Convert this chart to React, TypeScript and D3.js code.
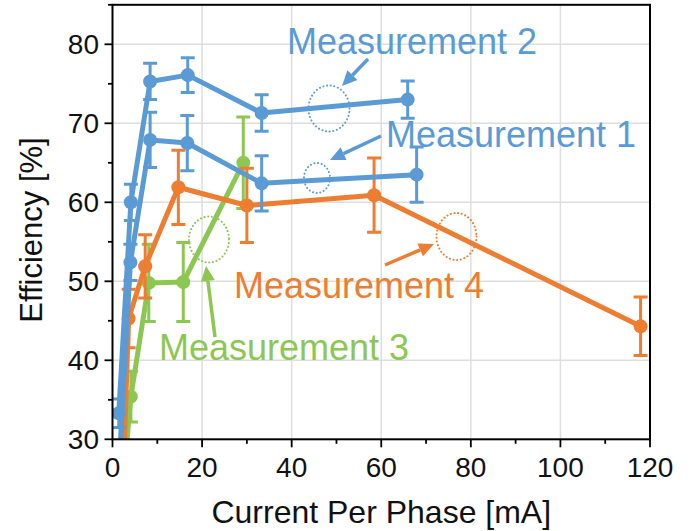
import React from "react";
import * as d3 from "d3";

// ---- data ----
const m1X = [1.5, 4.0, 8.4, 16.7, 33.3, 67.9];
const m1Y = [27.0, 52.4, 67.9, 67.5, 62.4, 63.5];
const m1E = [0, 2.3, 3.5, 3.5, 3.5, 3.5];

const m2X = [1.4, 4.1, 8.4, 16.8, 33.3, 65.9];
const m2Y = [33.3, 60.0, 75.3, 76.1, 71.3, 73.0];
const m2E = [1.8, 2.3, 2.3, 2.2, 2.3, 2.35];

const m3X = [2.8, 4.1, 8.1, 15.8, 29.2];
const m3Y = [27.0, 35.4, 49.8, 49.9, 65.0];
const m3E = [0, 3.2, 4.9, 5.0, 5.8];

const m4X = [2.5, 3.6, 7.3, 14.7, 30.0, 58.4, 117.9];
const m4Y = [27.0, 45.3, 51.9, 61.9, 59.6, 60.9, 44.3];
const m4E = [0, 3.7, 4.0, 4.7, 4.7, 4.7, 3.7];

const xTicks = [0, 20, 40, 60, 80, 100, 120];
const yTicks = [30, 40, 50, 60, 70, 80];
const xMinor = [10, 30, 50, 70, 90, 110];
const yMinor = [35, 45, 55, 65, 75, 85];

const BLUE = "#5b9bd5";
const ORANGE = "#ed7d31";
const GREEN = "#8cc751";

const x = d3.scaleLinear().domain([0, 120]).range([112.5, 650]);
const y = d3.scaleLinear().domain([30, 85]).range([439.3, 4.8]);

type S = { xs: number[]; ys: number[]; es: number[]; color: string };
const series: S[] = [
  { xs: m3X, ys: m3Y, es: m3E, color: GREEN },
  { xs: m4X, ys: m4Y, es: m4E, color: ORANGE },
  { xs: m1X, ys: m1Y, es: m1E, color: BLUE },
  { xs: m2X, ys: m2Y, es: m2E, color: BLUE },
];

const line = d3
  .line<[number, number]>()
  .x((d) => x(d[0]))
  .y((d) => y(d[1]));

function Series({ s }: { s: S }) {
  const pts = s.xs.map((v, i) => [v, s.ys[i]] as [number, number]);
  return (
    <g>
      <path d={line(pts) || ""} fill="none" stroke={s.color} strokeWidth={5} strokeLinejoin="round" />
      {pts.map((p, i) =>
        s.es[i] > 0 ? (
          <g key={"e" + i} stroke={s.color} strokeWidth={3}>
            <line x1={x(p[0])} x2={x(p[0])} y1={y(p[1] - s.es[i])} y2={y(p[1] + s.es[i])} />
            <line x1={x(p[0]) - 7} x2={x(p[0]) + 7} y1={y(p[1] - s.es[i])} y2={y(p[1] - s.es[i])} />
            <line x1={x(p[0]) - 7} x2={x(p[0]) + 7} y1={y(p[1] + s.es[i])} y2={y(p[1] + s.es[i])} />
          </g>
        ) : null
      )}
      {pts.map((p, i) => (
        <circle key={"c" + i} cx={x(p[0])} cy={y(p[1])} r={7} fill={s.color} />
      ))}
    </g>
  );
}

function Arrow({ x1, y1, x2, y2, color }: { x1: number; y1: number; x2: number; y2: number; color: string }) {
  const ang = Math.atan2(y2 - y1, x2 - x1);
  const L = 15, W = 7;
  const bx = x2 - L * Math.cos(ang), by = y2 - L * Math.sin(ang);
  const px = -Math.sin(ang) * W, py = Math.cos(ang) * W;
  return (
    <g>
      <line x1={x1} y1={y1} x2={bx} y2={by} stroke={color} strokeWidth={3.5} />
      <polygon points={`${x2},${y2} ${bx + px},${by + py} ${bx - px},${by - py}`} fill={color} />
    </g>
  );
}

export default function App() {
  const font = "'Liberation Sans', Arial, sans-serif";
  const [x0, x1] = x.range();
  const [y0, y1] = y.range();
  return (
    <svg width={691} height={531} style={{ position: "absolute", left: 0, top: 0, background: "#fff" }} fontFamily={font}>
      <defs>
        <clipPath id="plot">
          <rect x={x0} y={y1} width={x1 - x0} height={y0 - y1} />
        </clipPath>
      </defs>
      <rect width={691} height={531} fill="#fff" />
      {/* grid */}
      <g stroke="#dedede" strokeWidth={1.5}>
        {xTicks.slice(1, -1).map((t) => (
          <line key={t} x1={x(t)} x2={x(t)} y1={y1} y2={y0} />
        ))}
        {yTicks.slice(1).map((t) => (
          <line key={t} x1={x0} x2={x1} y1={y(t)} y2={y(t)} />
        ))}
      </g>
      {/* data */}
      <g clipPath="url(#plot)">
        {series.map((s, i) => (
          <Series key={i} s={s} />
        ))}
      </g>
      {/* frame and ticks */}
      <rect x={x0} y={y1} width={x1 - x0} height={y0 - y1} fill="none" stroke="#000" strokeWidth={2} />
      <g stroke="#000" strokeWidth={1.8}>
        {xTicks.map((t) => (
          <line key={"xt" + t} x1={x(t)} x2={x(t)} y1={y0} y2={y0 + 8} />
        ))}
        {xMinor.map((t) => (
          <line key={"xm" + t} x1={x(t)} x2={x(t)} y1={y0} y2={y0 + 4.5} />
        ))}
        {yTicks.map((t) => (
          <line key={"yt" + t} x1={x0 - 8} x2={x0} y1={y(t)} y2={y(t)} />
        ))}
        {yMinor.map((t) => (
          <line key={"ym" + t} x1={x0 - 4.5} x2={x0} y1={y(t)} y2={y(t)} />
        ))}
      </g>
      <g fontSize={28} fill="#111">
        {xTicks.map((t) => (
          <text key={"xl" + t} x={x(t)} y={477} textAnchor="middle">
            {t}
          </text>
        ))}
        {yTicks.map((t) => (
          <text key={"yl" + t} x={99} y={y(t)} dy="0.35em" textAnchor="end">
            {t}
          </text>
        ))}
      </g>
      <text x={(x0 + x1) / 2} y={523} textAnchor="middle" fontSize={32} fill="#111">
        Current Per Phase [mA]
      </text>
      <text transform={`translate(42,${(y0 + y1) / 2 + 8}) rotate(-90)`} textAnchor="middle" fontSize={31} fill="#111">
        Efficiency [%]
      </text>
      {/* annotations */}
      <g fill="none" strokeWidth={2} strokeDasharray="0.1 3.6" strokeLinecap="round">
        <ellipse cx={329} cy={108.5} rx={20.5} ry={23} stroke={BLUE} />
        <ellipse cx={317} cy={178} rx={13} ry={15} stroke={BLUE} />
        <ellipse cx={456.5} cy={236.5} rx={20} ry={23.5} stroke={ORANGE} />
        <ellipse cx={209} cy={239.5} rx={20} ry={23} stroke={GREEN} />
      </g>
      <Arrow x1={368} y1={59} x2={342} y2={86} color={BLUE} />
      <Arrow x1={381} y1={136} x2={330} y2={160} color={BLUE} />
      <Arrow x1={385} y1={265} x2={434} y2={244} color={ORANGE} />
      <Arrow x1={215} y1={337} x2={206} y2={266} color={GREEN} />
      <g fontSize={36}>
        <text x={287} y={54} fill={BLUE}>Measurement 2</text>
        <text x={386} y={147} fill={BLUE}>Measurement 1</text>
        <text x={234} y={298} fill={ORANGE}>Measurement 4</text>
        <text x={159} y={360} fill={GREEN}>Measurement 3</text>
      </g>
    </svg>
  );
}
